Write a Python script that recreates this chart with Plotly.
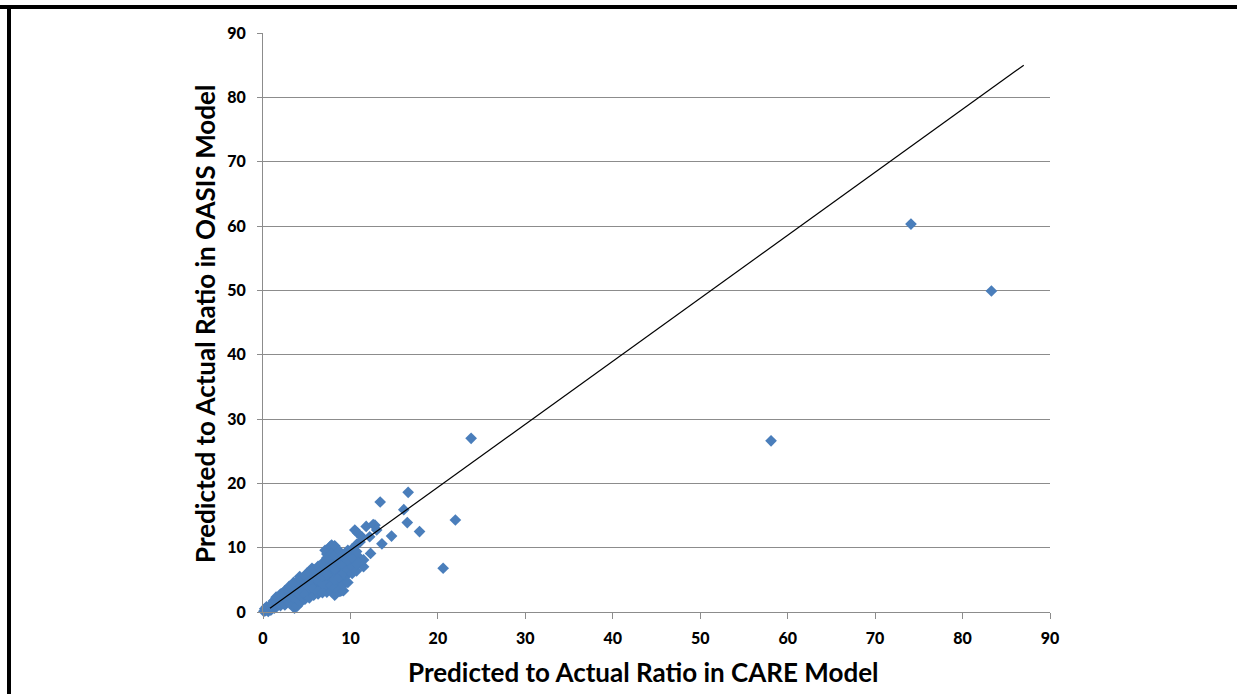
import plotly.graph_objects as go

# Predicted-to-actual ratios
care_x = [
    0.1, 0.3, 0.5, 0.2, 0.6, 0.8, 0.9, 0.4,
    1.1, 1.3, 1.5, 1.2, 1.7, 1.9, 1.6, 1.8, 1.4,
    2.1, 2.3, 2.5, 2.2, 2.7, 2.9, 2.6, 2.8, 2.4, 2.0,
    3.1, 3.3, 3.5, 3.2, 3.7, 3.9, 3.6, 3.4, 3.8, 3.0, 3.5, 3.66,
    4.1, 4.3, 4.5, 4.2, 4.7, 4.9, 4.4, 4.6, 4.8, 4.0, 4.5,
    5.0, 5.2, 5.4, 5.6, 5.8, 5.1, 5.3, 5.5, 5.7, 5.9, 5.0,
    6.1, 6.1, 6.3, 6.5, 6.7, 6.9, 6.2, 6.4, 6.6, 6.8, 6.0,
    7.1, 7.3, 7.7, 7.85, 7.85, 7.2, 7.4, 7.6, 7.9, 7.5, 7.0, 7.3,
    8.2, 8.35, 8.6, 8.8, 8.8, 8.1, 8.4, 8.5, 8.9, 8.3, 8.7,
    9.2, 9.6, 9.9, 9.4, 9.0, 9.7, 9.3, 9.8,
    10.3, 10.5, 10.8, 11.1, 11.1, 11.3, 11.5, 11.5, 11.8, 10.2, 10.7,
    12.2, 12.3, 12.6, 12.8, 13.0, 13.4, 13.6, 14.7,
    16.6, 16.1, 16.5, 17.9, 20.6, 22.0, 23.8,
    58.1, 74.1, 83.3,
    # dense part of the cluster
    0.7, 1.0, 1.0, 1.5, 1.5, 1.5, 2.0, 2.0, 2.0, 2.5, 2.5, 2.5,
    3.0, 3.0, 3.0, 3.0, 3.5, 3.5, 3.5, 3.5, 3.9, 3.9, 3.9,
    4.3, 4.3, 4.3, 4.3, 4.8, 4.8, 4.8, 4.8, 5.3, 5.3, 5.3, 5.3,
    5.8, 5.8, 5.8, 5.8, 6.3, 6.3, 6.3, 6.3, 6.3, 6.8, 6.8, 6.8, 6.8, 6.8,
    7.3, 7.3, 7.3, 7.3, 7.3, 7.8, 7.8, 7.8, 7.8, 7.8,
    8.2, 8.2, 8.2, 8.2, 8.2, 8.2, 8.7, 8.7, 8.7, 8.7,
    9.2, 9.2, 9.2, 9.2, 9.2, 9.7, 9.7, 9.7, 9.7,
    10.2, 10.2, 10.2, 10.2, 10.7, 10.7, 10.7, 10.7,
]
oasis_y = [
    0.1, 0.2, 0.4, 0.5, 0.1, 0.7, 0.3, 0.8,
    1.0, 0.6, 1.4, 1.7, 1.1, 1.8, 0.9, 2.2, 1.9,
    1.5, 2.4, 1.9, 2.9, 2.6, 3.3, 1.3, 2.0, 3.1, 2.5,
    2.8, 3.6, 2.4, 4.0, 3.2, 4.1, 0.6, 1.8, 2.1, 3.5, 4.3, 1.5,
    3.5, 4.5, 2.9, 5.5, 4.0, 5.1, 3.9, 2.2, 3.1, 4.8, 5.0,
    6.0, 4.5, 5.6, 6.8, 4.9, 3.3, 2.9, 4.1, 5.9, 6.3, 2.9,
    4.45, 3.7, 5.5, 6.4, 5.0, 6.0, 6.8, 4.2, 3.8, 7.0, 5.8,
    9.6, 3.7, 10.2, 5.5, 10.4, 6.5, 7.2, 4.6, 8.0, 8.4, 5.2, 9.0,
    2.9, 9.9, 9.1, 6.3, 3.2, 7.5, 4.0, 8.2, 7.0, 5.8, 4.6,
    5.0, 7.05, 9.1, 8.0, 3.3, 5.9, 6.5, 8.5,
    7.6, 12.75, 12.3, 8.35, 10.9, 11.7, 7.05, 8.1, 13.3, 9.0, 8.0,
    11.7, 9.1, 13.6, 13.5, 12.75, 17.1, 10.6, 11.8,
    18.6, 15.9, 13.9, 12.5, 6.8, 14.3, 27.0,
    26.6, 60.3, 49.9,
    # dense part of the cluster
    0.5, 0.5, 1.3, 0.8, 1.6, 2.3, 1.0, 1.8, 2.8, 1.1, 2.2, 3.3,
    1.4, 2.3, 3.2, 4.0, 1.2, 2.2, 3.3, 4.6, 0.9, 2.0, 3.0,
    1.5, 2.6, 3.3, 4.9, 2.0, 2.7, 4.4, 5.6, 2.2, 3.8, 5.0, 6.2,
    2.6, 3.6, 5.4, 6.6, 2.8, 3.2, 4.8, 6.0, 7.1, 3.0, 4.4, 5.6, 6.6, 7.6,
    3.1, 4.2, 5.8, 7.8, 8.4, 3.3, 4.1, 6.8, 7.2, 9.0,
    2.6, 3.8, 5.0, 6.7, 8.8, 10.3, 3.4, 5.4, 7.6, 9.5,
    3.3, 4.2, 6.0, 7.3, 8.6, 4.6, 6.6, 8.0, 9.6,
    6.0, 7.0, 8.4, 9.8, 6.4, 7.4, 9.4, 10.5,
]

# Reference line end points
line_x = [0.8, 87.0]
line_y = [0.6, 85.0]

x_ticks = [0, 10, 20, 30, 40, 50, 60, 70, 80, 90]
y_ticks = [0, 10, 20, 30, 40, 50, 60, 70, 80, 90]

x_title = "Predicted to Actual Ratio in CARE Model"
y_title = "Predicted to Actual Ratio in OASIS Model"

W, H = 1238, 694
L, R, T, B = 263, 1050, 33, 612
pw, ph = R - L, B - T


def px(X):
    return (X - L) / pw


def py(Y):
    return (B - Y) / ph


fig = go.Figure()
fig.add_trace(go.Scatter(
    x=care_x, y=oasis_y, mode="markers",
    marker=dict(symbol="diamond", size=9, color="#4A7EBB", line=dict(width=0)),
    cliponaxis=False, showlegend=False, hoverinfo="skip",
))
fig.add_trace(go.Scatter(
    x=line_x, y=line_y, mode="lines",
    line=dict(color="black", width=1.2),
    cliponaxis=False, showlegend=False, hoverinfo="skip",
))

font_family = "Lato, 'Liberation Sans', sans-serif"
grid = "#8C8C8C"

fig.update_layout(
    width=W, height=H,
    margin=dict(l=L, r=W - R, t=T, b=H - B),
    paper_bgcolor="white", plot_bgcolor="white",
    font=dict(family=font_family, color="black"),
    xaxis=dict(
        range=[0, 90], tickvals=x_ticks, ticktext=[str(v) for v in x_ticks],
        showgrid=False, zeroline=False, showline=True, linecolor=grid, linewidth=1,
        ticks="outside", ticklen=6, tickcolor=grid, tickwidth=1,
        ticklabelstandoff=6,
        tickfont=dict(family=font_family, size=16, color="black", weight=900),
    ),
    yaxis=dict(
        range=[0, 90], tickvals=y_ticks, ticktext=[str(v) for v in y_ticks],
        showgrid=True, gridcolor=grid, gridwidth=1,
        zeroline=False, showline=True, linecolor=grid, linewidth=1,
        ticks="outside", ticklen=5, tickcolor=grid, tickwidth=1,
        ticklabelstandoff=8,
        tickfont=dict(family=font_family, size=16, color="black", weight=900),
    ),
    annotations=[
        dict(text="<b>" + x_title + "</b>", xref="paper", yref="paper",
             x=px(643), y=py(672), showarrow=False, xanchor="center", yanchor="middle",
             font=dict(family=font_family, size=26, color="black")),
        dict(text="<b>" + y_title + "</b>", xref="paper", yref="paper",
             x=px(205), y=py(324), showarrow=False, xanchor="center", yanchor="middle",
             textangle=-90,
             font=dict(family=font_family, size=26, color="black")),
    ],
    shapes=[
        dict(type="rect", xref="paper", yref="paper",
             x0=px(0), x1=px(W - 1), y0=py(5), y1=py(9),
             fillcolor="black", line=dict(width=0)),
        dict(type="rect", xref="paper", yref="paper",
             x0=px(7), x1=px(11), y0=py(5), y1=py(H),
             fillcolor="black", line=dict(width=0)),
    ],
)

fig.write_html(
    "out.html", config={"displayModeBar": False},
    post_script=(
        "document.body.style.margin='0px';"
        "document.body.style.overflow='hidden';"
        "document.documentElement.style.overflow='hidden';"
    ),
)
